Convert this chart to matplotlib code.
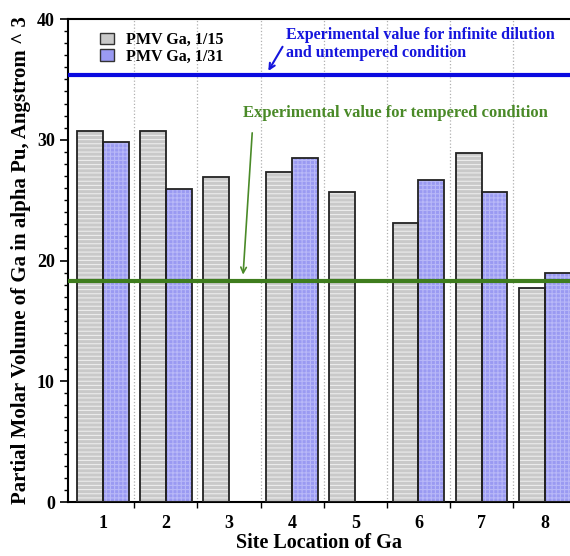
import numpy as np
import matplotlib.pyplot as plt
from matplotlib.ticker import MultipleLocator, FixedLocator

# data
sites = [1, 2, 3, 4, 5, 6, 7, 8]
pmv_15 = [30.7, 30.7, 26.9, 27.3, 25.7, 23.1, 28.9, 17.75]
pmv_31 = [29.85, 25.9, np.nan, 28.5, np.nan, 26.7, 25.7, 19.0]
exp_untempered = 35.4
exp_tempered = 18.3

plt.rcParams['font.family'] = ['Liberation Serif', 'DejaVu Serif']
plt.rcParams['font.weight'] = 'bold'
plt.rcParams['hatch.linewidth'] = 0.8

fig = plt.figure(figsize=(5.7, 5.56), dpi=100)
ax = fig.add_axes([0.1193, 0.0971, 0.8807, 0.8687])

x = np.array(sites, dtype=float)
w = 0.41
# textured fill, then black outline on top
ax.bar(x - w/2, pmv_15, w, color='#c9c9c9', hatch='----', edgecolor='#ececec', linewidth=0, zorder=2)
ax.bar(x + w/2, pmv_31, w, color='#9a9af2', hatch='++++', edgecolor='#b8b8f8', linewidth=0, zorder=2)
ax.bar(x - w/2, pmv_15, w, fill=False, edgecolor='#222222', linewidth=1.3, zorder=3)
ax.bar(x + w/2, pmv_31, w, fill=False, edgecolor='#222222', linewidth=1.3, zorder=3)

# legend proxies
ax.bar([0], [0], color='#c9c9c9', edgecolor='#333333', linewidth=1, label='PMV Ga, 1/15')
ax.bar([0], [0], color='#9a9af2', edgecolor='#333333', linewidth=1, label='PMV Ga, 1/31')

ax.axhline(exp_untempered, color='#0a0ae0', linewidth=3, zorder=4)
ax.axhline(exp_tempered, color='#3f7d1e', linewidth=3, zorder=4)

ax.text(3.90, 39.35, 'Experimental value for infinite dilution\nand untempered condition',
        color='#1515dd', fontsize=11.5, fontweight='bold', va='top', ha='left', linespacing=1.2)
ax.annotate('', xy=(3.60, 35.5), xytext=(3.87, 37.9),
            arrowprops=dict(arrowstyle='->', color='#1515dd', lw=1.5))
ax.text(3.22, 32.2, 'Experimental value for tempered condition', color='#4a8a28',
        fontsize=12, fontweight='bold', va='center', ha='left')
ax.annotate('', xy=(3.22, 18.6), xytext=(3.37, 30.8),
            arrowprops=dict(arrowstyle='->', color='#4a8a28', lw=1.2))

ax.set_xlim(0.45, 8.4)
ax.set_ylim(0, 40)
ax.set_xticks(sites)
ax.xaxis.set_minor_locator(FixedLocator(np.arange(1.5, 8, 1)))
ax.yaxis.set_major_locator(MultipleLocator(10))
ax.yaxis.set_minor_locator(MultipleLocator(1))
ax.tick_params(axis='x', which='major', length=0, labelsize=13, pad=9)
ax.tick_params(axis='x', which='minor', length=4, width=1, direction='out')
ax.tick_params(axis='y', which='major', length=6, width=1.2, labelsize=13, direction='out')
ax.tick_params(axis='y', which='minor', length=3, width=1, direction='out')
for lab in ax.get_xticklabels() + ax.get_yticklabels():
    lab.set_fontweight('bold')
ax.grid(True, axis='x', which='minor', color='#b0b0b0', linestyle=':', linewidth=0.9, zorder=0)

for s in ['left', 'bottom', 'top']:
    ax.spines[s].set_linewidth(1.5)
ax.spines['right'].set_visible(False)

ax.set_xlabel('Site Location of Ga', fontsize=14.5, fontweight='bold', labelpad=1)
ax.set_ylabel('Partial Molar Volume of Ga in alpha Pu, Angstrom ^ 3', fontsize=15,
              fontweight='bold', labelpad=4)

ax.legend(loc='upper left', bbox_to_anchor=(0.035, 1.003), frameon=False,
          handlelength=0.85, handleheight=0.75, handletextpad=0.75, labelspacing=0.05,
          prop={'weight': 'bold', 'size': 11.5})

fig.savefig('out.png', dpi=100)
